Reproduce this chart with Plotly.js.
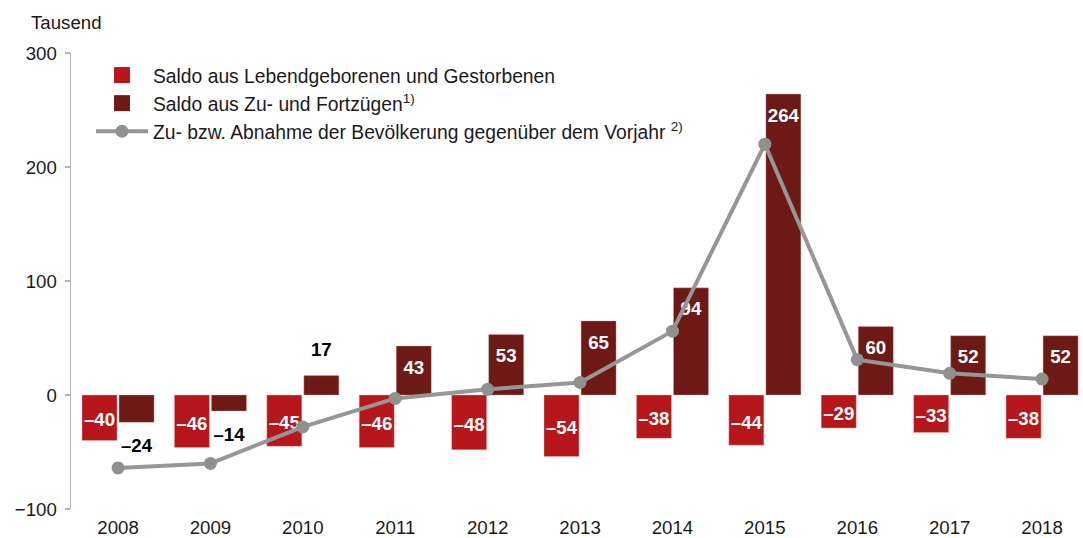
<!DOCTYPE html>
<html>
<head>
<meta charset="utf-8">
<script src="https://cdn.plot.ly/plotly-3.0.1.min.js"></script>
<style>html,body{margin:0;padding:0;background:#fff;}#chart{width:1083px;height:538px;}</style>
</head>
<body>
<div id="chart"></div>
<script>
// ---- data ----
const years = ['2008','2009','2010','2011','2012','2013','2014','2015','2016','2017','2018'];
const natural = [-40,-46,-45,-46,-48,-54,-38,-44,-29,-33,-38];      // Saldo aus Lebendgeborenen und Gestorbenen
const migration = [-24,-14,17,43,53,65,94,264,60,52,52];            // Saldo aus Zu- und Fortzügen
const change = [-64,-60,-28,-3,5,11,56,220,31,19,14];               // Zu- bzw. Abnahme der Bevölkerung
const names = [
  'Saldo aus Lebendgeborenen und Gestorbenen',
  'Saldo aus Zu- und Fortzügen<sup>1)</sup>',
  'Zu- bzw. Abnahme der Bevölkerung gegenüber dem Vorjahr <sup>2)</sup>'
];
const yTicks = [-100, 0, 100, 200, 300];
const unitLabel = 'Tausend';

// ---- layout constants ----
const W = 1083, H = 538;
const M = {l: 71, r: 0, t: 53, b: 29};
const X_RANGE = [-0.509, 10.443];
const Y_RANGE = [-100, 300];
const BAR_W = 0.379, HALF_GAP = 0.011;
const RED = '#b5171b', DARK = '#6d1a16', GREY = '#969696', MGREY = '#8f918f';
const FONT = 'Liberation Sans, Arial, Helvetica, sans-serif';
const FS = 18.67;
const LEG_FS = 19.3;
const pxPerY = (H - M.t - M.b) / (Y_RANGE[1] - Y_RANGE[0]);

const idx = years.map((_, i) => i);
const fmt = v => (v < 0 ? '\u2013' + Math.abs(v) : String(v));

const redX = idx.map(i => i - HALF_GAP - BAR_W / 2);
const darkX = idx.map(i => i + HALF_GAP + BAR_W / 2);

const INSIDE_MIN = 30;
const darkTextY = migration.map(v => Math.abs(v) >= INSIDE_MIN ? v - 23 / pxPerY : (v > 0 ? v + 24 / pxPerY : v - 25 / pxPerY));
const darkTextColor = migration.map(v => Math.abs(v) >= INSIDE_MIN ? '#ffffff' : '#000000');

const traces = [
  // legend proxies
  {type: 'scatter', mode: 'markers', x: [null], y: [null], name: names[0],
   marker: {symbol: 'square', size: 16, color: RED}, hoverinfo: 'skip'},
  {type: 'scatter', mode: 'markers', x: [null], y: [null], name: names[1],
   marker: {symbol: 'square', size: 16, color: DARK}, hoverinfo: 'skip'},
  // bars
  {type: 'bar', x: idx, y: natural, width: BAR_W, offset: -HALF_GAP - BAR_W, showlegend: false,
   marker: {color: RED, line: {color: 'rgba(235,190,190,0.7)', width: 0.6}}},
  {type: 'bar', x: idx, y: migration, width: BAR_W, offset: HALF_GAP, showlegend: false,
   marker: {color: DARK, line: {color: 'rgba(220,170,170,0.6)', width: 0.6}}},
  // value labels
  {type: 'scatter', mode: 'text', x: redX, y: natural.map(v => v / 2 - 4 / pxPerY),
   text: natural.map(fmt), textposition: 'middle center', showlegend: false, hoverinfo: 'skip',
   textfont: {family: FONT, size: FS, color: '#ffffff', weight: 'bold'}, cliponaxis: false},
  {type: 'scatter', mode: 'text', x: darkX, y: darkTextY,
   text: migration.map(fmt), textposition: 'middle center', showlegend: false, hoverinfo: 'skip',
   textfont: {family: FONT, size: FS, color: darkTextColor, weight: 'bold'}, cliponaxis: false},
  // line
  {type: 'scatter', mode: 'lines+markers', x: idx, y: change, name: names[2],
   line: {color: GREY, width: 4}, marker: {size: 13, color: MGREY}, cliponaxis: false}
];

const layout = {
  width: W, height: H,
  margin: M,
  paper_bgcolor: '#ffffff', plot_bgcolor: '#ffffff',
  font: {family: FONT, size: FS, color: '#1a1a1a'},
  barmode: 'overlay',
  showlegend: true,
  legend: {
    x: (91 - M.l) / (W - M.l - M.r), xanchor: 'left',
    y: 1 - (56 - M.t) / (H - M.t - M.b), yanchor: 'top',
    bgcolor: 'rgba(0,0,0,0)', borderwidth: 0,
    font: {family: FONT, size: LEG_FS, color: '#1a1a1a'},
    itemwidth: 52, traceorder: 'normal'
  },
  xaxis: {
    type: 'linear', range: X_RANGE, tickvals: idx, ticktext: years,
    showline: false, ticks: '', showgrid: false, zeroline: false,
    tickfont: {family: FONT, size: FS, color: '#1a1a1a'},
    ticklabelstandoff: 5,
    automargin: false, fixedrange: true
  },
  yaxis: {
    range: Y_RANGE, tickvals: yTicks, showgrid: false, zeroline: false,
    showline: true, linecolor: '#b4b4b4', linewidth: 1.5,
    ticks: 'outside', ticklen: 5, tickwidth: 1.5, tickcolor: '#b4b4b4',
    tickfont: {family: FONT, size: FS, color: '#1a1a1a'},
    ticklabelstandoff: 4,
    automargin: false, fixedrange: true
  },
  annotations: [{
    xref: 'paper', yref: 'paper',
    x: (29 - M.l) / (W - M.l - M.r), y: 1 + (53 - 22) / (H - M.t - M.b),
    xanchor: 'left', yanchor: 'middle', showarrow: false,
    text: unitLabel, font: {family: FONT, size: FS, color: '#1a1a1a'}
  }]
};

Plotly.newPlot('chart', traces, layout, {staticPlot: true, displayModeBar: false});
</script>
</body>
</html>
